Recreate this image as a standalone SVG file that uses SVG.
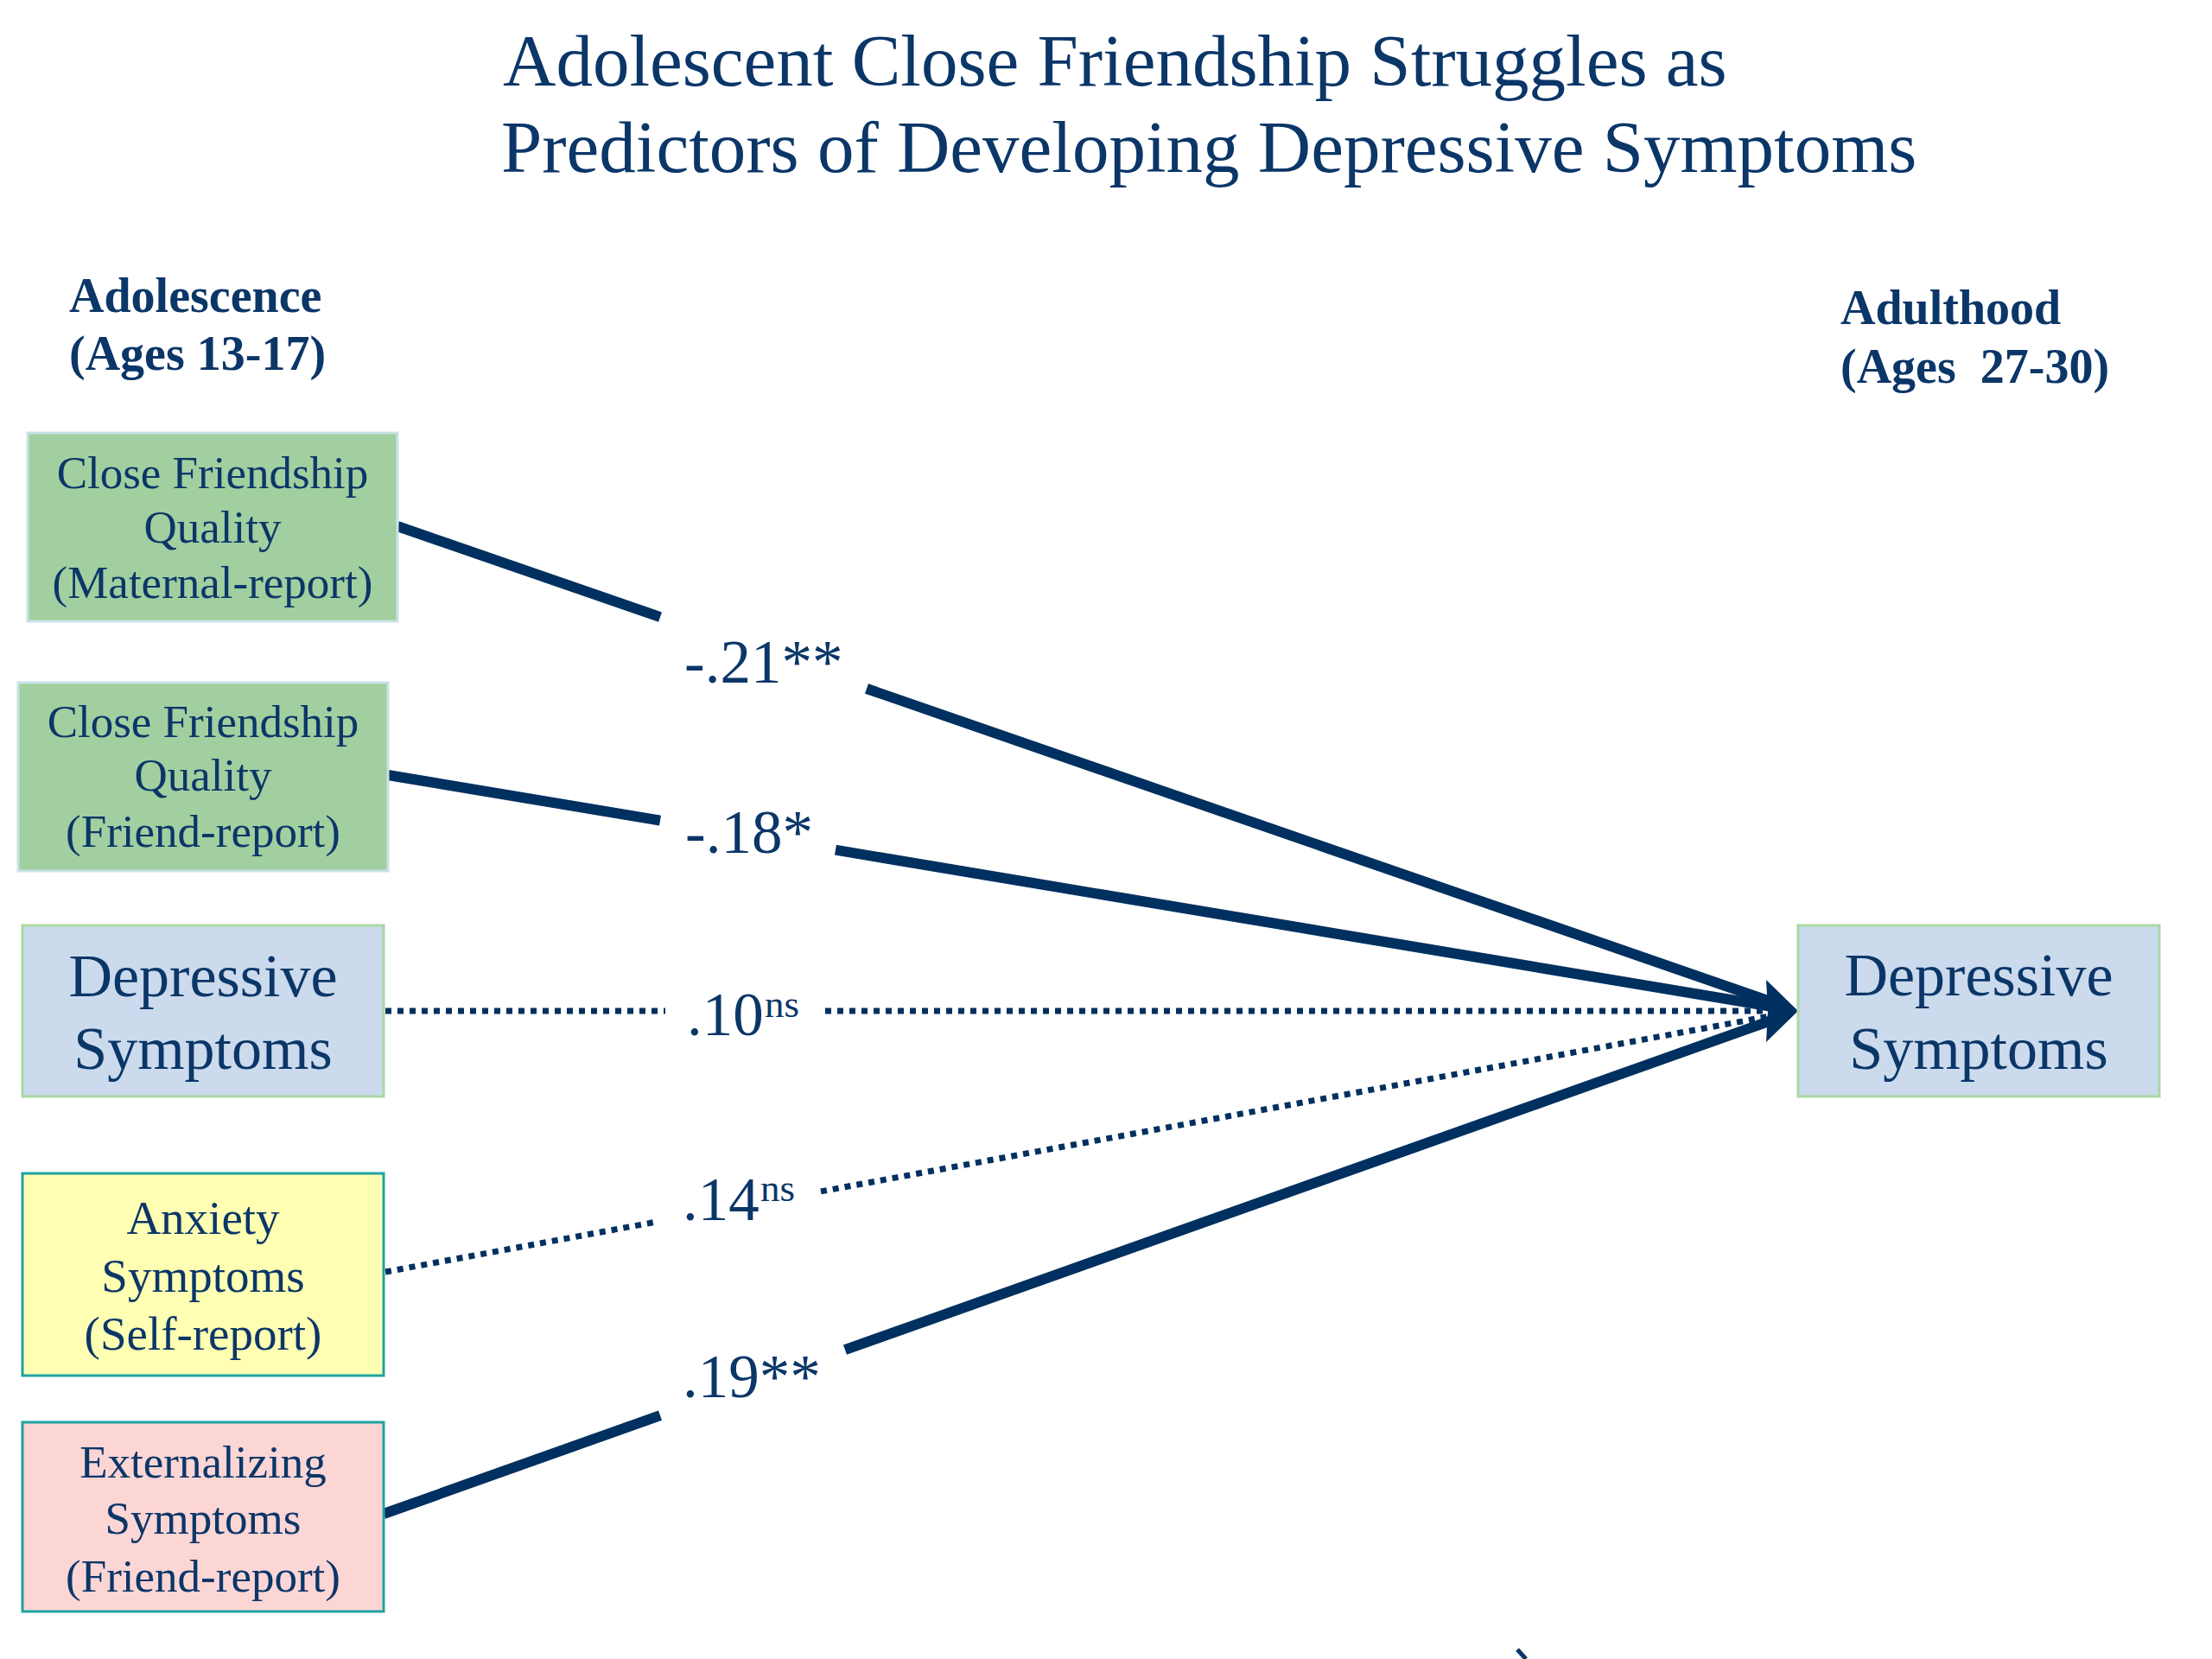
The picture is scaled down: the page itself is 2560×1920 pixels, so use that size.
<svg xmlns="http://www.w3.org/2000/svg" width="2560" height="1920" viewBox="0 0 2560 1920">
<defs>
<style>
.t{font-family:"Liberation Serif","Times New Roman",serif;fill:#0b3668;}
.title{font-size:85px;}
.hdr{font-size:56px;font-weight:bold;}
.bx{font-size:53px;text-anchor:middle;}
.bx55{font-size:55px;text-anchor:middle;}
.big{font-size:70px;text-anchor:middle;}
.lbl{font-size:71px;}
.sup{font-size:45px;}
.solid{stroke:#00305f;stroke-width:12;fill:none;}
.dot{stroke:#00305f;stroke-width:7;fill:none;stroke-dasharray:7 7;}
.green{fill:#a1cf9f;stroke:#c9e1e6;stroke-width:3;}
.blue{fill:#cbdaec;stroke:#a9d8a3;stroke-width:3;}
.yellow{fill:#ffffb3;stroke:#1ea39f;stroke-width:3;}
.pink{fill:#fcd5d5;stroke:#1ea39f;stroke-width:3;}
</style>
</defs>
<rect width="2560" height="1920" fill="#ffffff"/>

<g id="title">
<text class="t title" x="582" y="99">Adolescent Close Friendship Struggles as</text>
<text class="t title" x="580" y="199">Predictors of Developing Depressive Symptoms</text>
</g>

<g id="header-adolescence">
<text class="t hdr" x="80" y="361">Adolescence</text>
<text class="t hdr" x="80" y="428">(Ages 13-17)</text>
</g>

<g id="header-adulthood">
<text class="t hdr" x="2130" y="375" xml:space="preserve">Adulthood</text>
<text class="t hdr" x="2130" y="443" xml:space="preserve">(Ages  27-30)</text>
</g>

<g id="connectors">
<line class="solid" x1="460" y1="609" x2="764" y2="714.2"/>
<line class="solid" x1="1003" y1="797" x2="2060" y2="1162.8"/>
<line class="solid" x1="449" y1="897" x2="764" y2="949.7"/>
<line class="solid" x1="967" y1="983.7" x2="2060" y2="1166.5"/>
<line class="dot" x1="446" y1="1170" x2="770" y2="1170"/>
<line class="dot" x1="955" y1="1170" x2="2050" y2="1170"/>
<line class="dot" x1="446" y1="1472" x2="759" y2="1414.2"/>
<line class="dot" x1="950" y1="1378.9" x2="2055" y2="1174.8"/>
<line class="solid" x1="444" y1="1752" x2="764" y2="1638.2"/>
<line class="solid" x1="978" y1="1562.2" x2="2060" y2="1177.5"/>
<polygon points="2081,1170 2044,1134 2046,1170 2044,1206" fill="#00305f"/>
</g>

<g id="labels">
<text class="t lbl" x="792" y="790">-.21**</text>
<text class="t lbl" x="793" y="987">-.18*</text>
<text class="t lbl" x="795" y="1198">.10</text>
<text class="t sup" x="885" y="1177">ns</text>
<text class="t lbl" x="790" y="1412">.14</text>
<text class="t sup" x="880" y="1390">ns</text>
<text class="t lbl" x="790" y="1617">.19**</text>
</g>

<g id="node-cfq-maternal">
<rect class="green" x="32" y="501" width="428" height="218"/>
<text class="t bx" x="246" y="565">Close Friendship</text>
<text class="t bx" x="246" y="628">Quality</text>
<text class="t bx" x="246" y="692">(Maternal-report)</text>
</g>

<g id="node-cfq-friend">
<rect class="green" x="21" y="790" width="428" height="218"/>
<text class="t bx" x="235" y="853">Close Friendship</text>
<text class="t bx" x="235" y="915">Quality</text>
<text class="t bx" x="235" y="980">(Friend-report)</text>
</g>

<g id="node-depressive-adolescence">
<rect class="blue" x="26" y="1071" width="418" height="198"/>
<text class="t big" x="235" y="1153">Depressive</text>
<text class="t big" x="235" y="1237">Symptoms</text>
</g>

<g id="node-anxiety">
<rect class="yellow" x="26" y="1358" width="418" height="234"/>
<text class="t bx55" x="235" y="1428">Anxiety</text>
<text class="t bx55" x="235" y="1495">Symptoms</text>
<text class="t bx55" x="235" y="1562">(Self-report)</text>
</g>

<g id="node-externalizing">
<rect class="pink" x="26" y="1646" width="418" height="219"/>
<text class="t bx" x="235" y="1710">Externalizing</text>
<text class="t bx" x="235" y="1775">Symptoms</text>
<text class="t bx" x="235" y="1842">(Friend-report)</text>
</g>

<g id="node-depressive-adulthood">
<rect class="blue" x="2081" y="1071" width="418" height="198"/>
<text class="t big" x="2290" y="1152">Depressive</text>
<text class="t big" x="2290" y="1237">Symptoms</text>
</g>

<g id="fragment">
<path d="M1756,1909 L1766,1920" stroke="#0b3668" stroke-width="5" fill="none"/>
</g>
</svg>
